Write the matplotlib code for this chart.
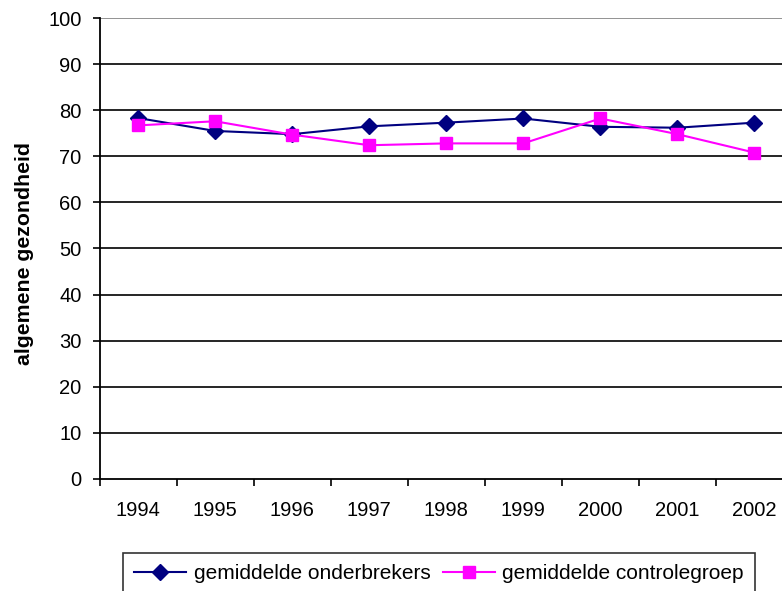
import matplotlib
matplotlib.use("Agg")
import matplotlib.pyplot as plt
import numpy as np

plt.rcParams["font.family"] = ["Liberation Sans", "DejaVu Sans"]

# Data
jaren = ["1994", "1995", "1996", "1997", "1998", "1999", "2000", "2001", "2002"]
onderbrekers = [78.3, 75.5, 74.8, 76.5, 77.3, 78.2, 76.4, 76.2, 77.3]
controlegroep = [76.7, 77.6, 74.7, 72.4, 72.8, 72.8, 78.2, 74.8, 70.8]
y_ticks = [0, 10, 20, 30, 40, 50, 60, 70, 80, 90, 100]

W, H = 782, 591
FS = 14.5
fig = plt.figure(figsize=(W / 100, H / 100), dpi=100)
left, right, top, bottom = 99.5, 793, 18, 479
ax = fig.add_axes([left / W, 1 - bottom / H, (right - left) / W, (bottom - top) / H])

x = np.arange(len(jaren))
ax.plot(x, onderbrekers, color="#000080", lw=1.5, marker="D", ms=8.5,
        label="gemiddelde onderbrekers", zorder=3)
ax.plot(x, controlegroep, color="#FF00FF", lw=1.5, marker="s", ms=8.5,
        label="gemiddelde controlegroep", zorder=3)

ax.set_xlim(-0.5, len(jaren) - 0.5)
ax.set_ylim(0, 100)
ax.set_yticks(y_ticks)
ax.set_yticklabels([str(v) for v in y_ticks])
ax.set_xticks(x)
ax.set_xticklabels(jaren)
ax.set_xticks(np.arange(-0.5, len(jaren)), minor=True)
ax.tick_params(axis="x", which="major", length=0, pad=16, labelsize=FS)
ax.tick_params(axis="x", which="minor", length=5, width=1.2, direction="out")
ax.tick_params(axis="y", length=5, width=1.2, direction="out", pad=8, labelsize=FS)

for v in y_ticks[1:]:
    ax.axhline(v, color="#808080" if v == 100 else "black", lw=1.2, zorder=1)

for s in ["top", "right"]:
    ax.spines[s].set_visible(False)
for s in ["left", "bottom"]:
    ax.spines[s].set_linewidth(1.3)

ax.set_ylabel("algemene gezondheid", fontsize=15.3, fontweight="bold")
ax.yaxis.set_label_coords(-0.095, 0.49)

leg = fig.legend(loc="upper left", bbox_to_anchor=(122.7 / W, 1 - 553 / H), ncol=2,
                 fontsize=15, frameon=True, fancybox=False, shadow=False,
                 handlelength=2.5, columnspacing=0.6, handletextpad=0.35,
                 borderpad=0.55, borderaxespad=0)
leg.get_frame().set_edgecolor("black")
leg.get_frame().set_linewidth(1.2)

fig.savefig("out.png", dpi=100)
